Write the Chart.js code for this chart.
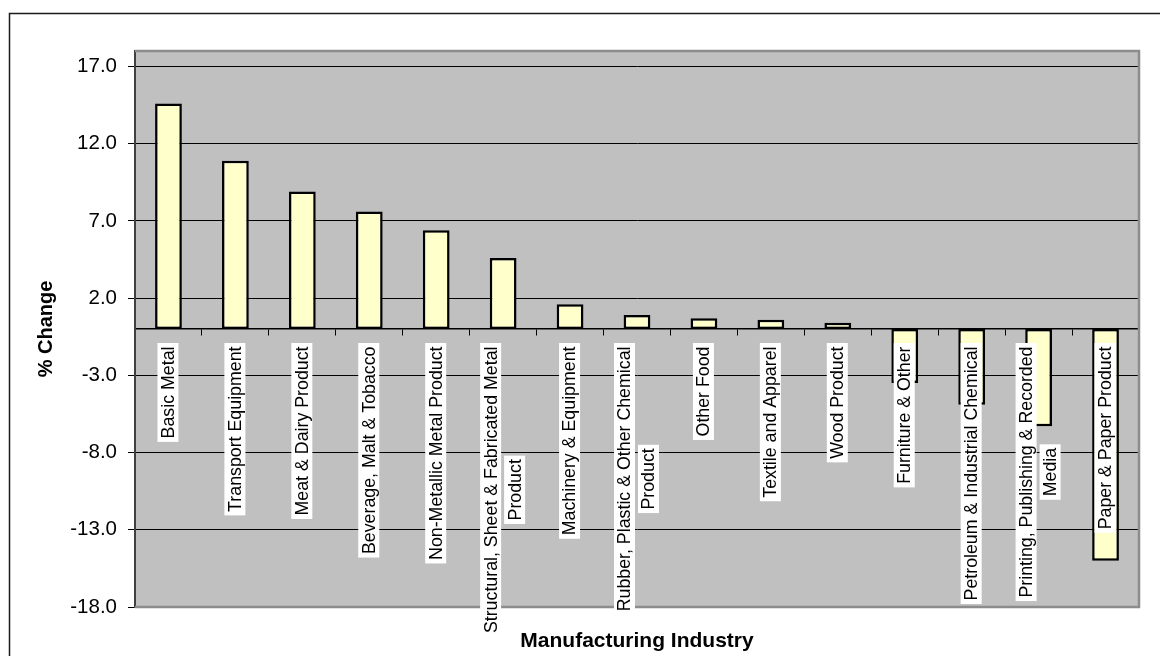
<!DOCTYPE html>
<html>
<head>
<meta charset="utf-8">
<script src="https://cdn.jsdelivr.net/npm/chart.js@4.4.1/dist/chart.umd.min.js"></script>
<style>
  body { margin: 0; background: #fff; }
  canvas { display: block; }
</style>
</head>
<body>
<canvas id="myChart" width="1160" height="656"></canvas>
<script>
var industries = [
  "Basic Metal",
  "Transport Equipment",
  "Meat & Dairy Product",
  "Beverage, Malt & Tobacco",
  "Non-Metallic Metal Product",
  ["Structural, Sheet & Fabricated Metal", "Product"],
  "Machinery & Equipment",
  ["Rubber, Plastic & Other Chemical", "Product"],
  "Other Food",
  "Textile and Apparel",
  "Wood Product",
  "Furniture & Other",
  "Petroleum & Industrial Chemical",
  ["Printing, Publishing & Recorded", "Media"],
  "Paper & Paper Product"
];
var pctChange = [14.6, 10.9, 8.9, 7.6, 6.4, 4.6, 1.6, 0.9, 0.7, 0.6, 0.4, -3.5, -4.9, -6.3, -15.0];
var yTicks = [-18, -13, -8, -3, 2, 7, 12, 17];

Chart.defaults.font.family = "'Liberation Sans', Arial, sans-serif";

// white page, outer frame and grey plot area
var frame = {
  id: 'frame',
  beforeDraw: function(chart) {
    var ctx = chart.ctx, a = chart.chartArea;
    ctx.save();
    ctx.fillStyle = '#fff';
    ctx.fillRect(0, 0, chart.width, chart.height);
    ctx.strokeStyle = '#1a1a1a';
    ctx.lineWidth = 1.5;
    ctx.beginPath();
    ctx.moveTo(9.5, chart.height);
    ctx.lineTo(9.5, 13.5);
    ctx.lineTo(chart.width, 13.5);
    ctx.stroke();
    ctx.fillStyle = '#c0c0c0';
    ctx.fillRect(a.left, a.top, a.right - a.left, a.bottom - a.top);
    ctx.restore();
  },
  beforeDatasetsDraw: function(chart) {
    var ctx = chart.ctx, a = chart.chartArea;
    ctx.save();
    ctx.strokeStyle = '#8c8c8c';
    ctx.lineWidth = 2.5;
    ctx.beginPath();
    ctx.moveTo(a.left, a.top);
    ctx.lineTo(a.right, a.top);
    ctx.lineTo(a.right, a.bottom);
    ctx.lineTo(a.left, a.bottom);
    ctx.stroke();
    ctx.restore();
  }
};

// vertical category labels with white boxes, hung below the zero line
var catLabels = {
  id: 'catLabels',
  afterDraw: function(chart) {
    var ctx = chart.ctx, xs = chart.scales.x, ys = chart.scales.y;
    var top = ys.getPixelForValue(0) + 14;
    ctx.save();
    ctx.font = '17.8px "Liberation Sans", Arial, sans-serif';
    ctx.textAlign = 'center';
    ctx.textBaseline = 'middle';
    industries.forEach(function(lab, i) {
      var lines = Array.isArray(lab) ? lab : [lab];
      var w = Math.max.apply(null, lines.map(function(s) { return ctx.measureText(s).width; }));
      var len = w + 7;
      var cx = xs.getPixelForValue(i) - 0.5;
      ctx.save();
      ctx.translate(cx, top + len / 2);
      ctx.rotate(-Math.PI / 2);
      lines.forEach(function(s, j) {
        var off = (j - (lines.length - 1) / 2) * 24;
        var lw = ctx.measureText(s).width + 7;
        ctx.fillStyle = '#fff';
        ctx.fillRect(-lw / 2, off - 10.5, lw, 21);
        ctx.fillStyle = '#000';
        ctx.fillText(s, 0, off + 1);
      });
      ctx.restore();
    });
    ctx.restore();
  }
};

new Chart("myChart", {
  type: 'bar',
  data: {
    labels: industries,
    datasets: [{
      data: pctChange,
      backgroundColor: '#ffffcc',
      borderColor: '#000',
      borderWidth: 2.5,
      borderSkipped: false,
      barPercentage: 0.4,
      categoryPercentage: 1
    }]
  },
  options: {
    responsive: false,
    animation: false,
    devicePixelRatio: 1,
    layout: { padding: { top: 51, right: 21, bottom: 0, left: 0 } },
    plugins: {
      legend: { display: false },
      tooltip: { enabled: false }
    },
    scales: {
      x: {
        grid: { display: false },
        border: { display: false },
        ticks: { display: false },
        title: {
          display: true,
          text: 'Manufacturing Industry',
          color: '#000',
          font: { size: 21, weight: 'bold' },
          padding: { top: 0, bottom: 2 }
        },
        afterFit: function(s) { s.height = 49; }
      },
      x2: {
        type: 'category',
        axis: 'x',
        position: { y: 0 },
        labels: industries,
        offset: true,
        grid: { offset: true, drawOnChartArea: false, color: '#000', lineWidth: 1, tickLength: 6 },
        border: { color: '#000', width: 1.5 },
        ticks: { display: false }
      },
      y: {
        min: -18,
        max: 18,
        afterBuildTicks: function(s) {
          s.ticks = yTicks.map(function(v) { return { value: v }; });
        },
        ticks: {
          callback: function(v) { return v.toFixed(1); },
          color: '#000',
          font: { size: 20.5 },
          padding: 11
        },
        grid: { color: '#000', lineWidth: 1, tickLength: 7 },
        border: { color: '#404040', width: 2 },
        title: {
          display: true,
          text: '% Change',
          color: '#000',
          font: { size: 20, weight: 'bold' },
          padding: { top: 34, bottom: 0 }
        },
        afterFit: function(s) { s.width = 135; }
      }
    }
  },
  plugins: [frame, catLabels]
});
</script>
</body>
</html>
